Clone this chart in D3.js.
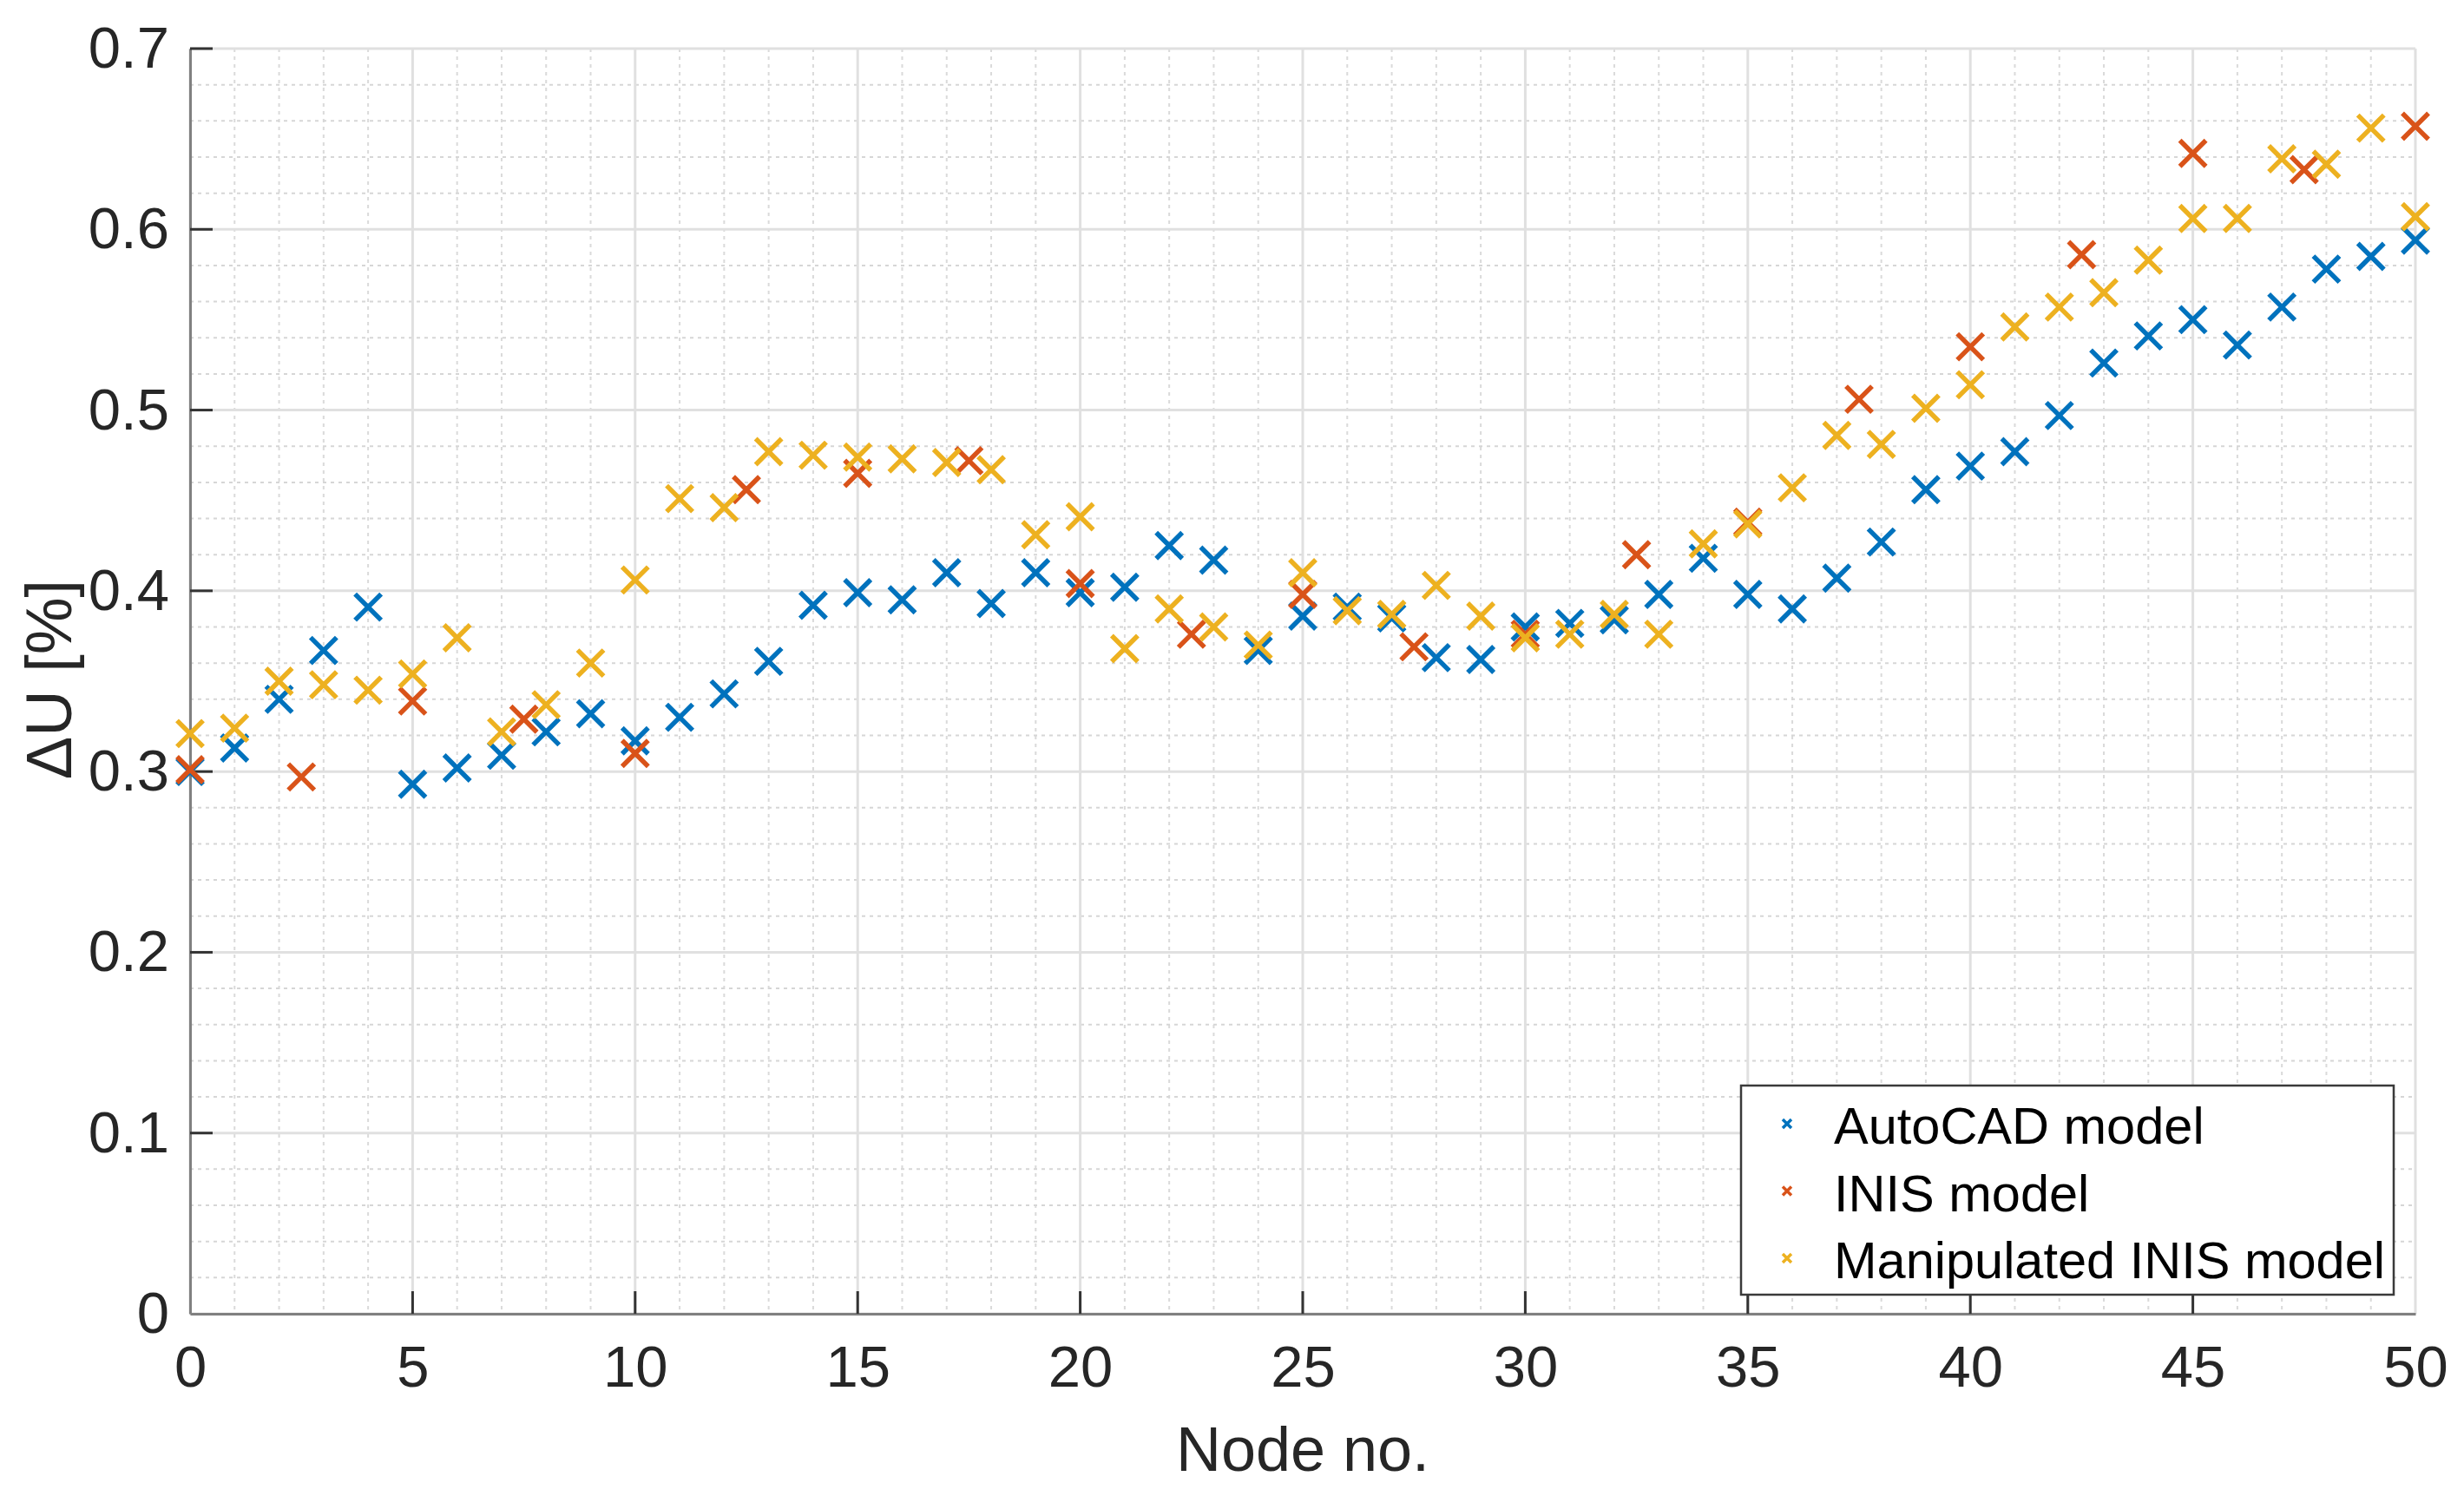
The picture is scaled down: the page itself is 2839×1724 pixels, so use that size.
<!DOCTYPE html>
<html>
<head>
<meta charset="utf-8">
<script src="https://cdn.jsdelivr.net/npm/d3@7"></script>
<style>
  body { margin: 0; background: #fff; }
  text { font-family: "Liberation Sans", Arial, Helvetica, sans-serif; }
</style>
</head>
<body>
<div id="chart"></div>
<script>
const nodes = [0,1,2,3,4,5,6,7,8,9,10,11,12,13,14,15,16,17,18,19,20,21,22,23,24,25,
  26,27,28,29,30,31,32,33,34,35,36,37,38,39,40,41,42,43,44,45,46,47,48,49,50];
const autocad = [0.300,0.313,0.340,0.367,0.391,0.293,0.302,0.309,0.322,0.332,
  0.317,0.330,0.343,0.361,0.392,0.399,0.395,0.410,0.393,0.410,
  0.399,0.402,0.425,0.417,0.367,0.386,0.391,0.385,0.363,0.362,
  0.380,0.382,0.384,0.398,0.418,0.398,0.390,0.407,0.427,0.456,
  0.469,0.477,0.497,0.526,0.541,0.550,0.536,0.557,0.578,0.585,0.594];
const inisNodes = [0,2.5,5,7.5,10,12.5,15,17.5,20,22.5,25,27.5,30,32.5,35,37.5,40,42.5,45,47.5,50];
const inis = [0.301,0.297,0.339,0.329,0.310,0.456,0.465,0.472,0.404,0.376,0.398,
  0.369,0.376,0.420,0.438,0.506,0.535,0.586,0.642,0.633,0.657];
const manipulated = [0.321,0.324,0.350,0.348,0.345,0.354,0.374,0.322,0.337,0.360,
  0.406,0.451,0.446,0.477,0.475,0.474,0.473,0.471,0.467,0.431,
  0.441,0.368,0.390,0.380,0.370,0.410,0.389,0.387,0.403,0.386,
  0.374,0.376,0.387,0.376,0.426,0.437,0.457,0.486,0.481,0.501,
  0.514,0.546,0.557,0.565,0.583,0.606,0.606,0.639,0.636,0.656,0.607];

const seriesNames = ['AutoCAD model', 'INIS model', 'Manipulated INIS model'];
const seriesColors = ['#0072BD', '#D95319', '#EDB120'];
const xTicks = [0,5,10,15,20,25,30,35,40,45,50];
const yTicks = [0,0.1,0.2,0.3,0.4,0.5,0.6,0.7];

// configuration of svg/plot area
let config = { 'svg': {}, 'margin': {}, 'plot': {} };
config.svg.width = 2839;
config.svg.height = 1724;
config.margin.left = 219;
config.margin.top = 56;
config.margin.right = 56;
config.margin.bottom = 210;
config.plot.width = config.svg.width - config.margin.left - config.margin.right;
config.plot.height = config.svg.height - config.margin.top - config.margin.bottom;

function translate(x, y) {
  return 'translate(' + x + ',' + y + ')';
}

const svg = d3.select('#chart').append('svg')
  .attr('width', config.svg.width)
  .attr('height', config.svg.height);

const plot = svg.append('g')
  .attr('transform', translate(config.margin.left, config.margin.top));

const x = d3.scaleLinear().domain([0, 50]).range([0, config.plot.width]);
const y = d3.scaleLinear().domain([0, 0.7]).range([config.plot.height, 0]);

// minor grid (dotted)
const xMinor = d3.range(0, 51, 1).filter(d => d % 5 !== 0);
const yMinor = d3.range(0, 71, 2).filter(d => d % 10 !== 0).map(d => d / 100);

const grid = plot.append('g').attr('class', 'grid');
grid.selectAll('.xminor').data(xMinor).enter().append('line')
  .attr('x1', d => x(d)).attr('x2', d => x(d))
  .attr('y1', 0).attr('y2', config.plot.height)
  .attr('stroke', '#dadada').attr('stroke-width', 2).attr('stroke-dasharray', '4,5');
grid.selectAll('.yminor').data(yMinor).enter().append('line')
  .attr('x1', 0).attr('x2', config.plot.width)
  .attr('y1', d => y(d)).attr('y2', d => y(d))
  .attr('stroke', '#d6d6d6').attr('stroke-width', 2).attr('stroke-dasharray', '4,5');

// major grid
grid.selectAll('.xmajor').data(xTicks).enter().append('line')
  .attr('x1', d => x(d)).attr('x2', d => x(d))
  .attr('y1', 0).attr('y2', config.plot.height)
  .attr('stroke', '#e0e0e0').attr('stroke-width', 3);
grid.selectAll('.ymajor').data(yTicks).enter().append('line')
  .attr('x1', 0).attr('x2', config.plot.width)
  .attr('y1', d => y(d)).attr('y2', d => y(d))
  .attr('stroke', '#e0e0e0').attr('stroke-width', 3);

// axes
const xAxis = d3.axisBottom(x).tickValues(xTicks).tickSize(0).tickPadding(44).tickFormat(d3.format('d'));
const yAxis = d3.axisLeft(y).tickValues(yTicks).tickSize(0).tickPadding(24).tickFormat(d => d === 0 ? '0' : d3.format('.1f')(d));

const gx = plot.append('g').attr('transform', translate(0, config.plot.height)).call(xAxis);
const gy = plot.append('g').call(yAxis);
[gx, gy].forEach(function(g) {
  g.select('.domain').attr('stroke', '#808080').attr('stroke-width', 3);
  g.selectAll('text').attr('fill', '#262626').style('font-size', '67px');
});
gx.selectAll('.tick text').attr('dy', '0.71em').attr('y', 36);

// inward tick marks
plot.append('g').selectAll('line').data(xTicks.slice(1, -1)).enter().append('line')
  .attr('x1', d => x(d)).attr('x2', d => x(d))
  .attr('y1', config.plot.height).attr('y2', config.plot.height - 26)
  .attr('stroke', '#333').attr('stroke-width', 3);
plot.append('g').selectAll('line').data(yTicks.slice(1)).enter().append('line')
  .attr('x1', 0).attr('x2', 26)
  .attr('y1', d => y(d)).attr('y2', d => y(d))
  .attr('stroke', '#333').attr('stroke-width', 3);

// axis labels
svg.append('text')
  .attr('x', config.margin.left + config.plot.width / 2)
  .attr('y', 1695)
  .attr('text-anchor', 'middle')
  .attr('fill', '#262626')
  .style('font-size', '72px')
  .text('Node no.');

svg.append('text')
  .attr('transform', translate(82, 783) + ' rotate(-90)')
  .attr('text-anchor', 'middle')
  .attr('fill', '#262626')
  .style('font-size', '74px')
  .text('\u0394U [%]');

// x-shaped markers
function crossPath(s) {
  return 'M' + (-s) + ',' + (-s) + 'L' + s + ',' + s + 'M' + (-s) + ',' + s + 'L' + s + ',' + (-s);
}

const seriesData = [
  nodes.map((n, i) => ({ n: n, v: autocad[i] })),
  inisNodes.map((n, i) => ({ n: n, v: inis[i] })),
  nodes.map((n, i) => ({ n: n, v: manipulated[i] }))
];

seriesData.forEach(function(data, k) {
  plot.append('g').selectAll('path').data(data).enter().append('path')
    .attr('d', crossPath(15))
    .attr('transform', d => translate(x(d.n), y(d.v)))
    .attr('fill', 'none')
    .attr('stroke', seriesColors[k])
    .attr('stroke-width', 5.5);
});

// legend
const legend = svg.append('g').attr('transform', translate(2006, 1251));
legend.append('rect')
  .attr('width', 752).attr('height', 241)
  .attr('fill', '#fff').attr('stroke', '#3a3a3a').attr('stroke-width', 2.5);

seriesNames.forEach(function(name, k) {
  const row = legend.append('g').attr('transform', translate(0, 44 + k * 77.5));
  row.append('path')
    .attr('d', crossPath(5))
    .attr('transform', translate(53, 0))
    .attr('fill', 'none')
    .attr('stroke', seriesColors[k])
    .attr('stroke-width', 3.5);
  row.append('text')
    .attr('x', 107)
    .attr('y', 23)
    .attr('fill', '#000')
    .style('font-size', '59.5px')
    .text(name);
});
</script>
</body>
</html>
